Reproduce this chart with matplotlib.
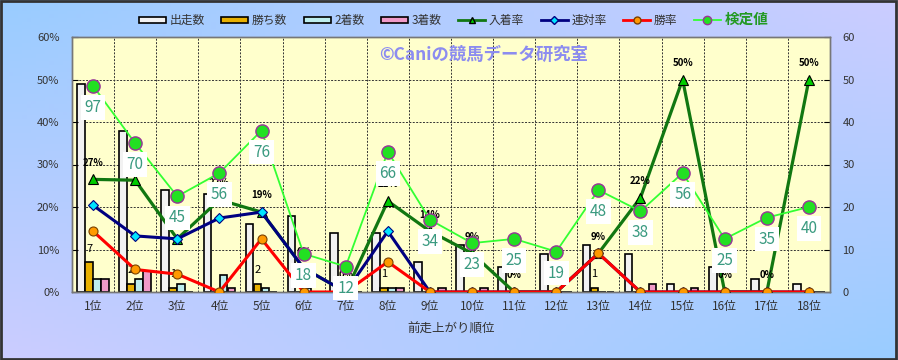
import numpy as np
import matplotlib
matplotlib.use("Agg")
import matplotlib.pyplot as plt
from matplotlib.patches import Patch, Rectangle
from matplotlib.lines import Line2D

plt.rcParams['font.family'] = ['Noto Sans CJK JP', 'DejaVu Sans']

# data
cats = ["1位", "2位", "3位", "4位", "5位", "6位", "7位", "8位", "9位",
        "10位", "11位", "12位", "13位", "14位", "15位", "16位", "17位", "18位"]
starts = [49, 38, 24, 23, 16, 18, 14, 14, 7, 11, 6, 9, 11, 9, 2, 6, 3, 2]
wins = [7, 2, 1, 0, 2, 0, 0, 1, 0, 0, 0, 0, 1, 0, 0, 0, 0, 0]
seconds = [3, 3, 2, 4, 1, 1, 0, 1, 0, 0, 0, 0, 0, 0, 0, 0, 0, 0]
thirds = [3, 5, 0, 1, 0, 0, 0, 1, 1, 1, 0, 0, 0, 2, 1, 0, 0, 0]
win_rate = [14.3, 5.3, 4.2, 0, 12.5, 0, 0, 7.1, 0, 0, 0, 0, 9.1, 0, 0, 0, 0, 0]
rentai_rate = [20.4, 13.2, 12.5, 17.4, 18.8, 5.6, 0, 14.3, 0, 0, 0, 0, 9.1, 0, 0, 0, 0, 0]
place_rate = [26.5, 26.3, 12.5, 21.7, 18.8, 5.6, 0, 21.4, 14.3, 9.1, 0, 0, 9.1, 22.2, 50, 0, 0, 50]
kentei = [97, 70, 45, 56, 76, 18, 12, 66, 34, 23, 25, 19, 48, 38, 56, 25, 35, 40]

x = np.arange(len(cats))

fig = plt.figure(figsize=(8.98, 3.6), dpi=100)

# background gradient
bg = fig.add_axes([0, 0, 1, 1], zorder=-5)
gx, gy = np.meshgrid(np.linspace(0, 1, 200), np.linspace(0, 1, 100))
f = gx + gy - 2 * gx * gy
blue = np.array([0.60, 0.80, 1.0])
lav = np.array([0.80, 0.80, 1.0])
img = blue[None, None, :] * (1 - f[..., None]) + lav[None, None, :] * f[..., None]
bg.imshow(img, aspect='auto', extent=[0, 1, 0, 1], origin='upper')
bg.axis('off')
fig.patches.append(Rectangle((0.001, 0.002), 0.997, 0.995, transform=fig.transFigure,
                             fill=False, edgecolor='#333333', lw=2))

pos = [72 / 898, 1 - 292 / 360, (830 - 72) / 898, (292 - 37) / 360]
ax = fig.add_axes(pos)          # percent axis (left)
ax2 = ax.twinx()                # count axis (right)
ax3 = ax.twinx()                # hidden axis for 検定値
ax2.set_zorder(1)
ax.set_zorder(2)
ax3.set_zorder(3)
ax.patch.set_visible(False)
ax3.patch.set_visible(False)
ax2.patch.set_visible(True)
ax2.patch.set_facecolor('#ffffcc')

# bars
w = 0.18
bar_cols = ['#f2f2f2', '#e8b000', '#bdeeee', '#f09ac8']
series = [starts, wins, seconds, thirds]
for i, (vals, c) in enumerate(zip(series, bar_cols)):
    ax2.bar(x + (i - 1.5) * 0.19, vals, width=w, color=c, edgecolor='black', lw=1.2, zorder=2)
for xi, v in zip(x, wins):
    if v > 0:
        ax2.annotate(str(v), (xi - 0.095, v), xytext=(0, 6), textcoords='offset points',
                     ha='center', va='bottom', fontsize=8, color='black', zorder=3)

ax2.set_ylim(0, 60)
ax2.set_yticks(range(0, 61, 10))
ax2.grid(axis='y', color='#333333', ls=(0, (2, 1.5)), lw=0.7)
ax2.set_axisbelow(True)
for b in np.arange(0.5, 17.5, 1):
    ax2.axvline(b, color='#333333', ls=(0, (2, 1.5)), lw=0.7, zorder=1)

# rate lines
ax.plot(x, place_rate, color='#117711', lw=2.3, marker='^', ms=7.5,
        mfc='#00cc00', mec='black', mew=0.8, zorder=3)
ax.plot(x, rentai_rate, color='#000080', lw=2.2, marker='D', ms=5,
        mfc='#00e5ff', mec='#000080', mew=0.8, zorder=4)
ax.plot(x, win_rate, color='#ff0000', lw=2.2, marker='o', ms=6.5,
        mfc='#ff9900', mec='#7a4000', mew=0.8, zorder=5)
for xi, v in zip(x, place_rate):
    ax.annotate(f"{int(v + 0.5)}%", (xi, v), xytext=(0, 12), textcoords='offset points',
                ha='center', va='center', fontsize=7, fontweight='bold',
                color='black', zorder=6)
ax.set_ylim(0, 60)
ax.set_xlim(-0.5, 17.5)
ax.set_yticks(range(0, 61, 10))
ax.set_yticklabels([f"{v}%" for v in range(0, 61, 10)])
ax.set_xticks(x)
ax.set_xticklabels(cats)

# 検定値
ax3.set_ylim(0, 120)
ax3.plot(x, kentei, color='#33ff33', lw=1.3, marker='o', ms=9.5,
         mfc='#22e022', mec='#993399', mew=1.0, zorder=3)
for xi, v in zip(x, kentei):
    ax3.annotate(str(v), (xi, v), xytext=(0, -15.5), textcoords='offset points',
                 ha='center', va='center', fontsize=11, color='#3a9a80', zorder=4,
                 bbox=dict(boxstyle='square,pad=0.25', fc='white', ec='none'))
ax3.axis('off')

ax3.text(0.543, 0.93, "©Caniの競馬データ研究室", transform=ax3.transAxes,
         ha='center', va='center', fontsize=12.5, fontweight='bold', color='#8c8cf0', zorder=1)

for a in (ax, ax2):
    for s in a.spines.values():
        s.set_color('#777777')
        s.set_linewidth(1.0)
ax.tick_params(axis='y', direction='in', length=4, labelsize=8, labelcolor='#333333', pad=9)
ax.tick_params(axis='x', length=0, labelsize=8.5, labelcolor='#333333', pad=6)
ax2.tick_params(axis='y', direction='in', length=4, labelsize=8, labelcolor='#333333', pad=9)
ax.set_xlabel("前走上がり順位", fontsize=9, color='#333333', labelpad=7)

# legend
handles = [
    Patch(facecolor=bar_cols[0], edgecolor='black', lw=1.2, label='出走数'),
    Patch(facecolor=bar_cols[1], edgecolor='black', lw=1.2, label='勝ち数'),
    Patch(facecolor=bar_cols[2], edgecolor='black', lw=1.2, label='2着数'),
    Patch(facecolor=bar_cols[3], edgecolor='black', lw=1.2, label='3着数'),
    Line2D([], [], color='#117711', lw=2, marker='^', ms=5, mfc='#00cc00', mec='black', label='入着率'),
    Line2D([], [], color='#000080', lw=2, marker='D', ms=4, mfc='#00e5ff', mec='#000080', label='連対率'),
    Line2D([], [], color='#ff0000', lw=2, marker='o', ms=5, mfc='#ff9900', mec='#7a4000', label='勝率'),
    Line2D([], [], color='#33ff33', lw=1.3, marker='o', ms=6, mfc='#22e022', mec='#993399', label='検定値'),
]
leg = fig.legend(handles=handles, loc='center', bbox_to_anchor=(0.505, 0.947), ncol=8,
                 frameon=False, fontsize=8.5, handlelength=2.3, handleheight=0.5,
                 handletextpad=0.3, columnspacing=1.4)
for t in leg.get_texts():
    t.set_color('#333333')
last = leg.get_texts()[-1]
last.set_color('#229922')
last.set_fontsize(10.5)
last.set_fontweight('bold')

fig.savefig("out.png", dpi=100)
